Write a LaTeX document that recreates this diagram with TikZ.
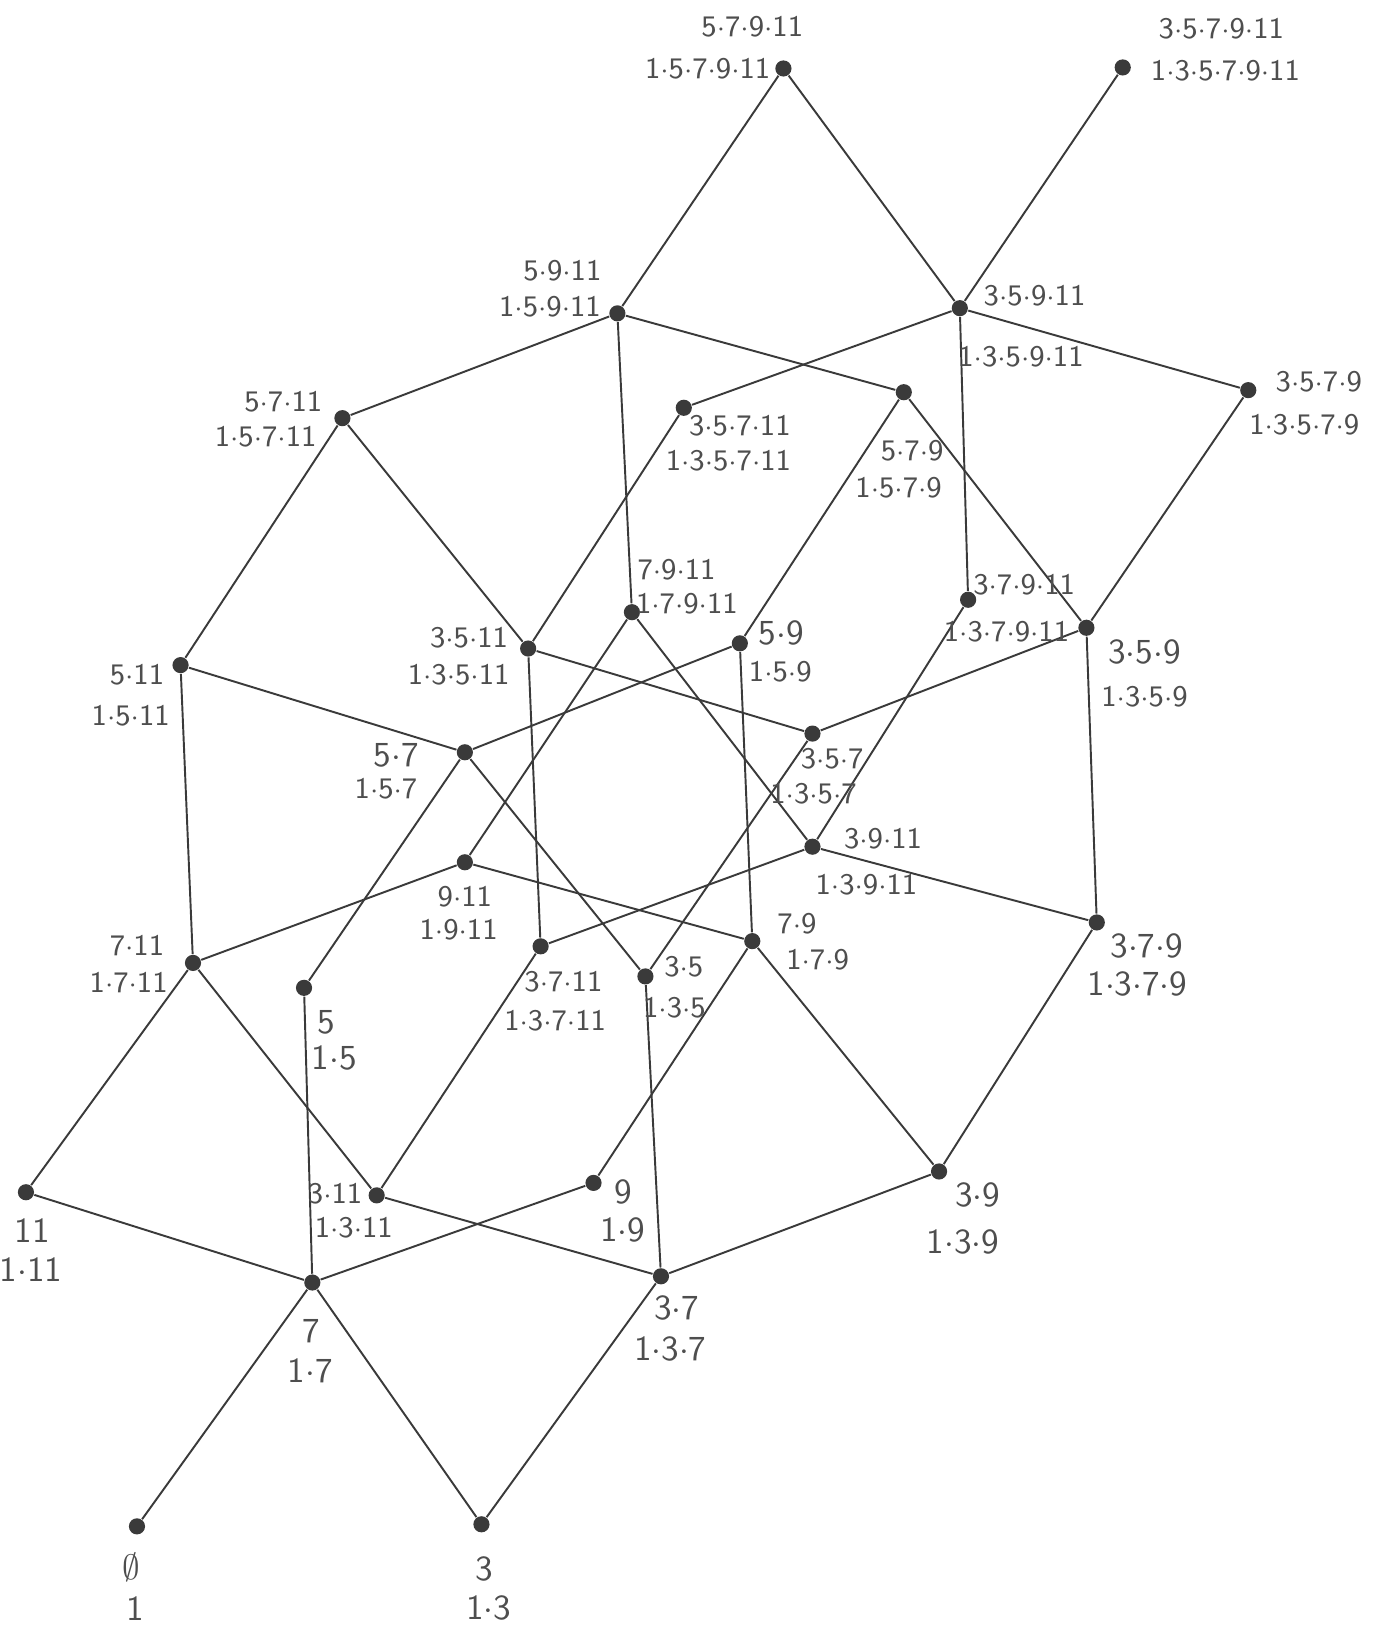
\documentclass[tikz,border=0pt]{standalone}
\usepackage{tikz}
\definecolor{pencil}{HTML}{3A3A3A}
\definecolor{graphite}{HTML}{4E4E4E}
\newcommand{\pd}{\ensuremath{{\cdot}}}

\begin{document}
\begin{tikzpicture}[x=0.010375cm, y=-0.010375cm,
  vtx/.style={circle, fill=pencil, inner sep=0pt, minimum size=4.6pt},
  link/.style={pencil, line width=0.55pt},
  lab/.style={graphite, inner sep=0pt, font=\sffamily\fontsize{8.5}{10}\selectfont},
  labbig/.style={lab, font=\sffamily\fontsize{10}{12}\selectfont}]

  \useasboundingbox (0,0) rectangle (1332,1568);

  % Vertices (subsets of {3,5,7,9,11})
  \foreach \v/\x/\y in {e/132/1471, s3/464/1469, s7/301/1236, s11/25/1149,
      s3-11/363/1152, s9/572/1140, s3-7/637/1230, s3-9/905/1129,
      s5/293/952, s7-11/186/928, s3-7-11/521/912, s3-5/622/941,
      s7-9/725/907, s3-7-9/1057/889, s9-11/448/831, s3-9-11/783/816,
      s5-7/448/725, s3-5-7/783/707, s5-11/174/641, s3-5-11/509/625,
      s7-9-11/609/590, s5-9/713/620, s3-7-9-11/933/578, s3-5-9/1047/605,
      s5-7-11/330/403, s3-5-7-11/659/393, s5-7-9/871/378, s3-5-7-9/1203/376,
      s5-9-11/595/302, s3-5-9-11/925/297, s5-7-9-11/755/66,
      s3-5-7-9-11/1082/65}
    \node[vtx] (\v) at (\x,\y) {};

  % Edges
  \foreach \a/\b in {e/s7, s3/s7, s3/s3-7, s7/s11, s7/s9, s7/s5,
      s3-11/s3-7, s3-7/s3-9, s3-7/s3-5,
      s11/s7-11, s7-11/s3-11, s3-11/s3-7-11,
      s9/s7-9, s3-9/s7-9, s3-9/s3-7-9,
      s7-11/s5-11, s7-11/s9-11, s5/s5-7,
      s3-7-11/s3-5-11, s3-7-11/s3-9-11,
      s3-5/s5-7, s3-5/s3-5-7, s7-9/s5-9, s7-9/s9-11,
      s3-7-9/s3-9-11, s3-7-9/s3-5-9,
      s9-11/s7-9-11, s3-9-11/s7-9-11, s3-9-11/s3-7-9-11,
      s5-11/s5-7-11, s5-11/s5-7, s5-7/s5-9,
      s3-5-11/s3-5-7, s3-5-7/s3-5-9,
      s3-5-11/s5-7-11, s3-5-11/s3-5-7-11,
      s5-9/s5-7-9, s3-7-9-11/s3-5-9-11,
      s3-5-9/s5-7-9, s3-5-9/s3-5-7-9,
      s5-9-11/s5-7-9-11, s5-9-11/s5-7-11, s5-9-11/s7-9-11, s5-9-11/s5-7-9,
      s3-5-9-11/s3-5-7-11, s3-5-9-11/s5-7-9-11, s3-5-9-11/s3-5-7-9-11,
      s3-5-9-11/s3-5-7-9}
    \draw[link] (\a) -- (\b);

  % Labels: the set, and below it the product with 1
  \foreach \l/\x/\y/\s/\t in {
      e-t/127/1510/labbig/$\emptyset$, e-b/130/1550/labbig/1,
      s3-t/467/1512/labbig/3, s3-b/471/1550/labbig/1\pd3,
      s7-t/300/1283/labbig/7, s7-b/299/1321/labbig/1\pd7,
      s11-t/31/1186/labbig/11, s11-b/30/1224/labbig/1\pd11,
      s3-11-t/323/1150/lab/3\pd11, s3-11-b/341/1183/lab/1\pd3\pd11,
      s9-t/601/1149/labbig/9, s9-b/600/1185/labbig/1\pd9,
      s3-7-t/652/1261/labbig/3\pd7, s3-7-b/646/1300/labbig/1\pd3\pd7,
      s3-9-t/942/1152/labbig/3\pd9, s3-9-b/928/1197/labbig/1\pd3\pd9,
      s5-t/314/985/labbig/5, s5-b/322/1020/labbig/1\pd5,
      s7-11-t/132/911/lab/7\pd11, s7-11-b/124/947/lab/1\pd7\pd11,
      s3-7-11-t/543/946/lab/3\pd7\pd11, s3-7-11-b/535/984/lab/1\pd3\pd7\pd11,
      s3-5-t/659/932/lab/3\pd5, s3-5-b/650/971/lab/1\pd3\pd5,
      s7-9-t/768/890/lab/7\pd9, s7-9-b/788/925/lab/1\pd7\pd9,
      s3-7-9-t/1105/912/labbig/3\pd7\pd9, s3-7-9-b/1096/948/labbig/1\pd3\pd7\pd9,
      s9-11-t/448/864/lab/9\pd11, s9-11-b/442/896/lab/1\pd9\pd11,
      s3-9-11-t/851/808/lab/3\pd9\pd11, s3-9-11-b/835/853/lab/1\pd3\pd9\pd11,
      s5-7-t/382/728/labbig/5\pd7, s5-7-b/372/760/lab/1\pd5\pd7,
      s3-5-7-t/802/731/lab/3\pd5\pd7, s3-5-7-b/784/765/lab/1\pd3\pd5\pd7,
      s5-11-t/132/650/lab/5\pd11, s5-11-b/126/690/lab/1\pd5\pd11,
      s3-5-11-t/452/615/lab/3\pd5\pd11, s3-5-11-b/442/650/lab/1\pd3\pd5\pd11,
      s7-9-11-t/652/549/lab/7\pd9\pd11, s7-9-11-b/662/582/lab/1\pd7\pd9\pd11,
      s5-9-t/753/610/labbig/5\pd9, s5-9-b/752/647/lab/1\pd5\pd9,
      s3-7-9-11-t/987/564/lab/3\pd7\pd9\pd11, s3-7-9-11-b/970/609/lab/1\pd3\pd7\pd9\pd11,
      s3-5-9-t/1103/628/labbig/3\pd5\pd9, s3-5-9-b/1103/671/lab/1\pd3\pd5\pd9,
      s5-7-11-t/273/387/lab/5\pd7\pd11, s5-7-11-b/256/421/lab/1\pd5\pd7\pd11,
      s3-5-7-11-t/713/410/lab/3\pd5\pd7\pd11, s3-5-7-11-b/702/444/lab/1\pd3\pd5\pd7\pd11,
      s5-7-9-t/879/434/lab/5\pd7\pd9, s5-7-9-b/866/470/lab/1\pd5\pd7\pd9,
      s3-5-7-9-t/1271/368/lab/3\pd5\pd7\pd9, s3-5-7-9-b/1257/409/lab/1\pd3\pd5\pd7\pd9,
      s5-9-11-t/542/261/lab/5\pd9\pd11, s5-9-11-b/530/296/lab/1\pd5\pd9\pd11,
      s3-5-9-11-t/997/285/lab/3\pd5\pd9\pd11, s3-5-9-11-b/984/344/lab/1\pd3\pd5\pd9\pd11,
      s5-7-9-11-t/725/26/lab/5\pd7\pd9\pd11, s5-7-9-11-b/682/66/lab/1\pd5\pd7\pd9\pd11,
      s3-5-7-9-11-t/1177/28/lab/3\pd5\pd7\pd9\pd11,
      s3-5-7-9-11-b/1181/68/lab/1\pd3\pd5\pd7\pd9\pd11}
    \node[\s] (\l) at (\x,\y) {\t};
\end{tikzpicture}
\end{document}
